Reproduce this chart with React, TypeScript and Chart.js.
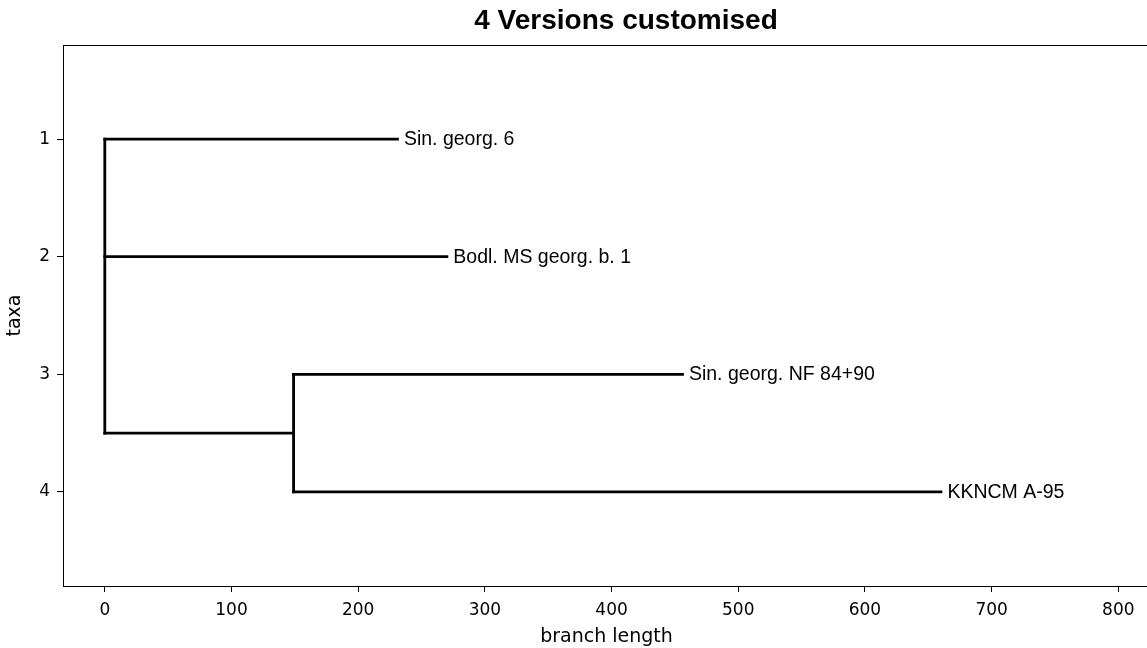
import React, { useEffect, useRef } from "react";
import { Chart, registerables } from "chart.js";

Chart.register(...registerables);

// ---- data ----
const chartTitle = "4 Versions customised";
const xAxisTitle = "branch length";
const yAxisTitle = "taxa";

const taxa = ["Sin. georg. 6", "Bodl. MS georg. b. 1", "Sin. georg. NF 84+90", "KKNCM A-95"];
const taxaRows = [1, 2, 3, 4];
const leafDepths = [231, 270, 456, 660];
const leafParents = [0, 0, 1, 1]; // index of clade each leaf hangs from

const cladeDepths = [0, 149];
const cladeParents = [-1, 0]; // -1 = root (no stem)

const xTickValues = [0, 100, 200, 300, 400, 500, 600, 700, 800];
const yTickValues = [1, 2, 3, 4];

// ---- build tree segments ----
type Pt = { x: number; y: number };

function buildSegments(): Pt[][] {
  const childYs: number[][] = cladeDepths.map(() => []);
  leafParents.forEach((p, i) => childYs[p].push(taxaRows[i]));
  const cladeY: number[] = cladeDepths.map(() => 0);
  for (let c = cladeDepths.length - 1; c >= 0; c--) {
    const ys = childYs[c];
    cladeY[c] = (Math.min(...ys) + Math.max(...ys)) / 2;
    if (cladeParents[c] >= 0) childYs[cladeParents[c]].push(cladeY[c]);
  }
  const segs: Pt[][] = [];
  taxa.forEach((_, i) => {
    segs.push([
      { x: cladeDepths[leafParents[i]], y: taxaRows[i] },
      { x: leafDepths[i], y: taxaRows[i] },
    ]);
  });
  cladeDepths.forEach((d, c) => {
    if (cladeParents[c] >= 0) {
      segs.push([
        { x: cladeDepths[cladeParents[c]], y: cladeY[c] },
        { x: d, y: cladeY[c] },
      ]);
    }
    const ys = childYs[c];
    segs.push([
      { x: d, y: Math.min(...ys) },
      { x: d, y: Math.max(...ys) },
    ]);
  });
  return segs;
}

const SANS = "'Liberation Sans', Arial, sans-serif";
const DEJAVU = "'DejaVu Sans', sans-serif";

export default function App() {
  const ref = useRef<HTMLCanvasElement | null>(null);

  useEffect(() => {
    if (!ref.current) return;
    const segs = buildSegments();
    const datasets = segs.map((s) => ({
      data: s,
      showLine: true,
      borderColor: "#000",
      borderWidth: 2.8,
      borderCapStyle: "square" as const,
      pointRadius: 0,
      fill: false,
    }));

    const framePlugin = {
      id: "frame",
      afterDraw(chart: any) {
        const { ctx, chartArea } = chart;
        ctx.save();
        ctx.strokeStyle = "#000";
        ctx.lineWidth = 1;
        ctx.strokeRect(
          Math.round(chartArea.left) + 0.5,
          Math.round(chartArea.top) + 0.5,
          Math.round(chartArea.right - chartArea.left),
          Math.round(chartArea.bottom - chartArea.top)
        );
        // title, centred as in the reference figure
        ctx.fillStyle = "#000";
        ctx.font = `bold 28px ${SANS}`;
        ctx.textAlign = "center";
        ctx.textBaseline = "middle";
        ctx.fillText(chartTitle, 626, 21.5);
        ctx.restore();
      },
    };

    const labelPlugin = {
      id: "leafLabels",
      afterDatasetsDraw(chart: any) {
        const { ctx } = chart;
        const xs = chart.scales.x;
        const ys = chart.scales.y;
        ctx.save();
        ctx.fillStyle = "#000";
        ctx.font = `19.5px ${SANS}`;
        ctx.textAlign = "left";
        ctx.textBaseline = "middle";
        taxa.forEach((name, i) => {
          ctx.fillText(" " + name, xs.getPixelForValue(leafDepths[i]) + 1, ys.getPixelForValue(taxaRows[i]) + 0.5);
        });
        ctx.restore();
      },
    };

    const chart = new Chart(ref.current, {
      type: "scatter",
      data: { datasets },
      plugins: [framePlugin, labelPlugin],
      options: {
        animation: false,
        responsive: false,
        events: [],
        layout: { padding: { left: 0, right: 101, top: 45, bottom: 0 } },
        plugins: {
          legend: { display: false },
          tooltip: { enabled: false },
          title: { display: false },
        },
        scales: {
          x: {
            type: "linear",
            min: -33,
            max: 825,
            afterBuildTicks: (s: any) => {
              s.ticks = xTickValues.map((v) => ({ value: v }));
            },
            afterFit: (s: any) => {
              s.height = 62;
            },
            grid: { drawOnChartArea: false, drawTicks: true, tickLength: 6, color: "#000", tickWidth: 1 },
            border: { display: true, color: "#000", width: 1 },
            ticks: {
              color: "#000",
              font: { family: DEJAVU, size: 17 },
              padding: 8,
              maxRotation: 0,
              autoSkip: false,
            },
            title: {
              display: true,
              text: xAxisTitle,
              color: "#000",
              font: { family: DEJAVU, size: 19, lineHeight: 1.2 },
              padding: { top: 0, bottom: 0 },
            },
          },
          y: {
            type: "linear",
            reverse: true,
            min: 0.2,
            max: 4.8,
            afterBuildTicks: (s: any) => {
              s.ticks = yTickValues.map((v) => ({ value: v }));
            },
            afterFit: (s: any) => {
              s.width = 63;
            },
            grid: { drawOnChartArea: false, drawTicks: true, tickLength: 6, color: "#000", tickWidth: 1 },
            border: { display: true, color: "#000", width: 1 },
            ticks: {
              color: "#000",
              font: { family: DEJAVU, size: 17 },
              padding: 7,
              autoSkip: false,
            },
            title: {
              display: true,
              text: yAxisTitle,
              color: "#000",
              font: { family: DEJAVU, size: 19, lineHeight: 1.2 },
              padding: { top: 4, bottom: 0 },
            },
          },
        },
      } as any,
    });
    return () => chart.destroy();
  }, []);

  return (
    <div
      style={{
        position: "fixed",
        left: 0,
        top: 0,
        width: 1147,
        height: 648,
        overflow: "hidden",
        background: "#fff",
      }}
    >
      <canvas ref={ref} width={1251} height={648} style={{ display: "block" }} />
    </div>
  );
}
